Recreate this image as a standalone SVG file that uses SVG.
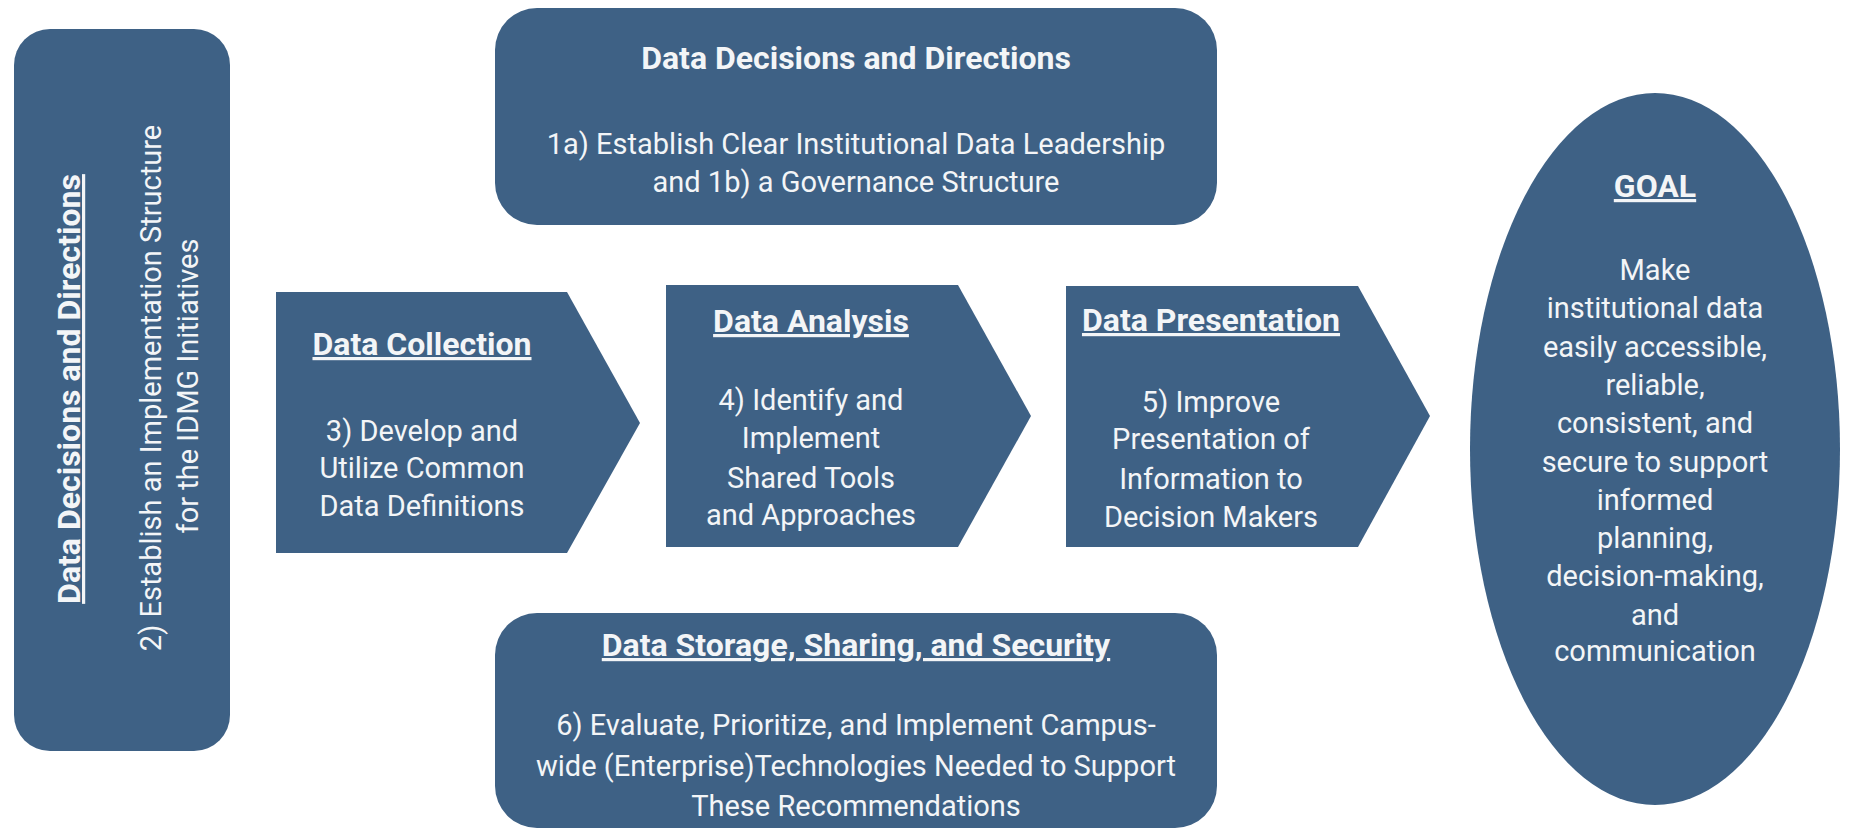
<svg xmlns="http://www.w3.org/2000/svg" width="1849" height="830" viewBox="0 0 1849 830">
<style>
.shape{fill:#3E6185;}
.t{font-family:Roboto,"Liberation Sans",sans-serif;fill:#F3F5F7;text-anchor:middle;}
.b{font-size:29px;}
.h{font-size:32px;font-weight:bold;}
.u{text-decoration:underline;}
</style>
<rect width="1849" height="830" fill="#FFFFFF"/>
<g id="connectors"></g>
<g id="left-decisions">
<rect class="shape" x="14" y="29" width="216" height="722" rx="36" ry="36"/>
<text class="t h u" transform="translate(80,389) rotate(-90)">Data Decisions and Directions</text>
<text class="t b" transform="translate(161,388) rotate(-90)">2) Establish an Implementation Structure</text>
<text class="t b" transform="translate(198,386) rotate(-90)">for the IDMG Initiatives</text>
</g>
<g id="top-decisions">
<rect class="shape" x="495" y="8" width="722" height="217" rx="42" ry="42"/>
<text class="t h" x="856" y="69">Data Decisions and Directions</text>
<text class="t b" x="856" y="154">1a) Establish Clear Institutional Data Leadership</text>
<text class="t b" x="856" y="192">and 1b) a Governance Structure</text>
</g>
<g id="data-collection">
<polygon class="shape" points="276,292 567,292 640,423 567,553 276,553"/>
<text class="t h u" x="422" y="355">Data Collection</text>
<text class="t b" x="422" y="441">3) Develop and</text>
<text class="t b" x="422" y="478">Utilize Common</text>
<text class="t b" x="422" y="516">Data Definitions</text>
</g>
<g id="data-analysis">
<polygon class="shape" points="666,285 958,285 1031,416 958,547 666,547"/>
<text class="t h u" x="811" y="332">Data Analysis</text>
<text class="t b" x="811" y="410">4) Identify and</text>
<text class="t b" x="811" y="448">Implement</text>
<text class="t b" x="811" y="488">Shared Tools</text>
<text class="t b" x="811" y="525">and Approaches</text>
</g>
<g id="data-presentation">
<polygon class="shape" points="1066,286 1358,286 1430,416 1358,547 1066,547"/>
<text class="t h u" x="1211" y="331">Data Presentation</text>
<text class="t b" x="1211" y="412">5) Improve</text>
<text class="t b" x="1211" y="449">Presentation of</text>
<text class="t b" x="1211" y="489">Information to</text>
<text class="t b" x="1211" y="527">Decision Makers</text>
</g>
<g id="data-storage">
<rect class="shape" x="495" y="613" width="722" height="215" rx="42" ry="42"/>
<text class="t h u" x="856" y="656">Data Storage, Sharing, and Security</text>
<text class="t b" x="856" y="735">6) Evaluate, Prioritize, and Implement Campus-</text>
<text class="t b" x="856" y="776">wide (Enterprise)Technologies Needed to Support</text>
<text class="t b" x="856" y="816">These Recommendations</text>
</g>
<g id="goal">
<ellipse class="shape" cx="1655" cy="449" rx="185" ry="356"/>
<text class="t h u" x="1655" y="197">GOAL</text>
<text class="t b" x="1655" y="280">Make</text>
<text class="t b" x="1655" y="318">institutional data</text>
<text class="t b" x="1655" y="357">easily accessible,</text>
<text class="t b" x="1655" y="395">reliable,</text>
<text class="t b" x="1655" y="433">consistent, and</text>
<text class="t b" x="1655" y="472">secure to support</text>
<text class="t b" x="1655" y="510">informed</text>
<text class="t b" x="1655" y="548">planning,</text>
<text class="t b" x="1655" y="586">decision-making,</text>
<text class="t b" x="1655" y="625">and</text>
<text class="t b" x="1655" y="661">communication</text>
</g>
</svg>
